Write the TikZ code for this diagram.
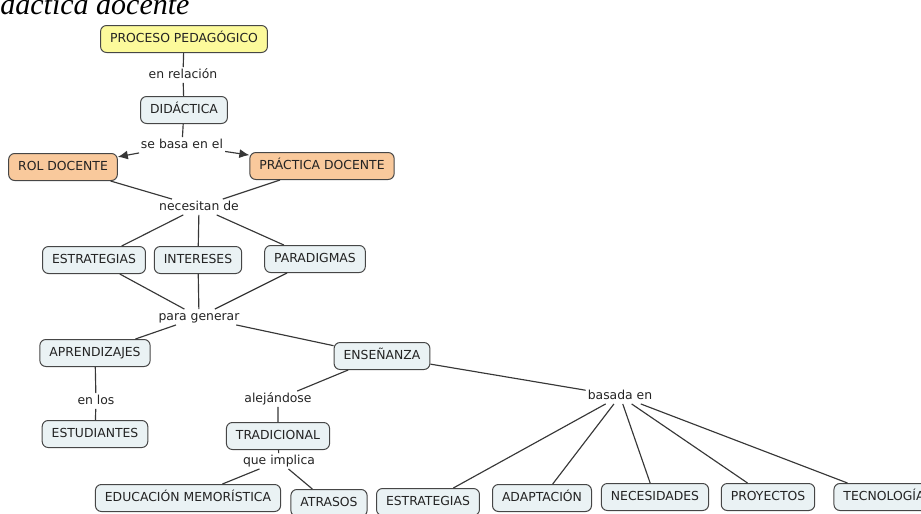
\documentclass[tikz,border=0pt]{standalone}
\usepackage{fontspec}
\newfontfamily\mapfont{DejaVu Sans}
\newfontfamily\titlefont{Liberation Serif}
\usetikzlibrary{arrows.meta}
\definecolor{conceptfill}{RGB}{234,242,244}
\definecolor{yellowfill}{RGB}{252,250,155}
\definecolor{orangefill}{RGB}{249,201,156}
\definecolor{boxline}{RGB}{70,70,70}
\definecolor{linkgray}{RGB}{55,55,55}
\definecolor{textgray}{RGB}{35,35,35}

\begin{document}
\begin{tikzpicture}[x = 1pt, y = -1pt]
		\tikzstyle{every node} = [font = \mapfont\fontsize{12.4}{14}\selectfont, text = textgray]
		\tikzstyle{concept} = [draw = boxline, fill = conceptfill, rounded corners = 6pt, line width = 1pt, inner xsep = 9.5pt, minimum height = 27pt, text height = 9pt, text depth = 2.5pt]
		\tikzstyle{phrase} = [inner sep = 2pt, text height = 9pt, text depth = 2.5pt]
		\tikzstyle{link} = [draw = linkgray, line width = 1.15pt]
		\tikzstyle{arrowlink} = [link, -{Latex[length = 10pt, width = 9pt]}]
		\useasboundingbox (0,0) rectangle (921,514);
		\clip (0,0) rectangle (921,514);

		\node [anchor = base east, font = \titlefont\itshape\fontsize{30}{32}\selectfont, text = black] (titulo) at (193,14) {dáctica docente};

		% top part
		\node [concept, fill = yellowfill] (proceso) at (184,39) {PROCESO PEDAGÓGICO};
		\node [phrase] (enrelacion) at (183,75) {en relación};
		\node [concept] (didactica) at (184,110) {DIDÁCTICA};
		\node [phrase] (sebasa) at (182,145) {se basa en el};
		\node [concept, fill = orangefill] (rol) at (63,167) {ROL DOCENTE};
		\node [concept, fill = orangefill] (practica) at (322,166) {PRÁCTICA DOCENTE};
		\node [phrase] (necesitan) at (199,207) {necesitan de};

		\node [concept] (estrategias) at (94,260) {ESTRATEGIAS};
		\node [concept] (intereses) at (198,260) {INTERESES};
		\node [concept] (paradigmas) at (315,259) {PARADIGMAS};
		\node [phrase] (paragenerar) at (199,317) {para generar};

		% left branch
		\node [concept] (aprendizajes) at (95,353) {APRENDIZAJES};
		\node [phrase] (enlos) at (96,401) {en los};
		\node [concept] (estudiantes) at (95,434) {ESTUDIANTES};

		% right branch
		\node [concept] (ensenanza) at (382,356) {ENSEÑANZA};
		\node [phrase] (alejandose) at (278,399) {alejándose};
		\node [concept] (tradicional) at (278,436) {TRADICIONAL};
		\node [phrase] (queimplica) at (279,461) {que implica};
		\node [concept] (memoristica) at (188,498) {EDUCACIÓN MEMORÍSTICA};
		\node [concept] (atrasos) at (329,503) {ATRASOS};

		\node [phrase] (basada) at (620,396) {basada en};
		\node [concept] (estrategiasb) at (428,502) {ESTRATEGIAS};
		\node [concept] (adaptacion) at (542,498) {ADAPTACIÓN};
		\node [concept] (necesidades) at (655,497) {NECESIDADES};
		\node [concept] (proyectos) at (768,497) {PROYECTOS};
		\node [concept] (tecnologia) at (884,497) {TECNOLOGÍA};

		% connectors
		\draw [link] (proceso) -- (enrelacion) -- (didactica);
		\draw [link] (didactica) -- (sebasa);
		\draw [arrowlink] (sebasa) -- (rol);
		\draw [arrowlink] (sebasa) -- (practica);
		\draw [link] (rol) -- (necesitan);
		\draw [link] (practica) -- (necesitan);
		\foreach \n in {estrategias, intereses, paradigmas}
		{
			\draw [link] (necesitan) -- (\n);
			\draw [link] (\n) -- (paragenerar);
		}
		\draw [link] (paragenerar) -- (aprendizajes);
		\draw [link] (paragenerar) -- (ensenanza);
		\draw [link] (aprendizajes) -- (enlos) -- (estudiantes);
		\draw [link] (ensenanza) -- (alejandose) -- (tradicional);
		\draw [link] (tradicional) -- (queimplica);
		\draw [link] (queimplica) -- (memoristica);
		\draw [link] (queimplica) -- (atrasos);
		\draw [link] (ensenanza) -- (basada);
		\foreach \n in {estrategiasb, adaptacion, necesidades, proyectos, tecnologia}
			\draw [link] (basada) -- (\n); %fan to bottom row
	\end{tikzpicture}
\end{document}
